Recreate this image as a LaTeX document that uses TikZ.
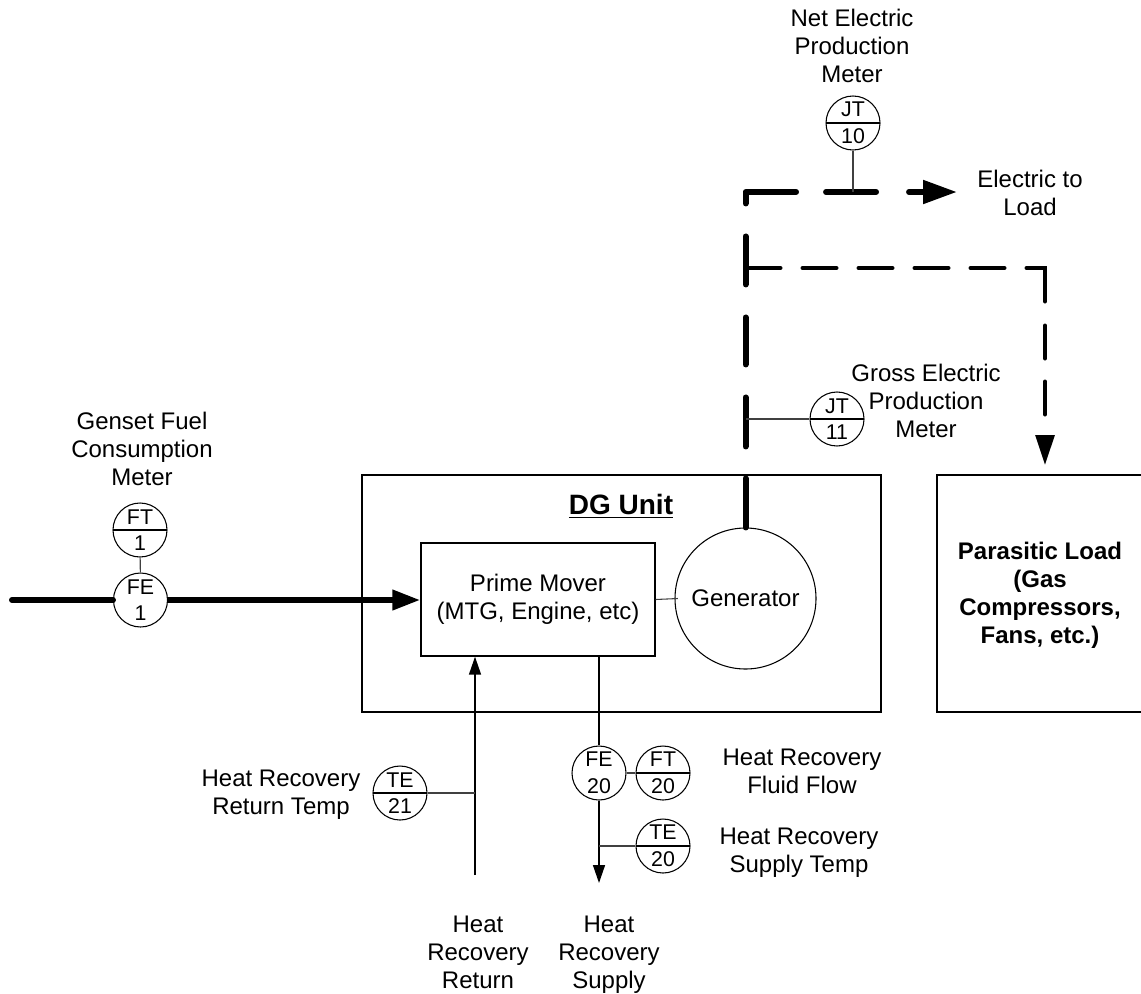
\documentclass[tikz,border=0pt]{standalone}
\usepackage{fontspec}
\setmainfont{Liberation Sans}
\usetikzlibrary{arrows.meta}
\tikzset{
  lbl/.style={align=center, inner sep=0pt, font=\fontsize{18}{21}\selectfont},
  boldlbl/.style={lbl, font=\fontsize{18}{21}\selectfont\bfseries},
  block/.style={draw, line width=1pt, inner sep=0pt, align=center, font=\fontsize{18}{21}\selectfont},
  meter/.style={draw, circle, fill=white, line width=0.8pt, minimum size=40.5pt, inner sep=0pt, align=center, font=\fontsize{16}{20}\selectfont},
  divided/.style={path picture={\draw[line width=1pt] (path picture bounding box.west) -- (path picture bounding box.east);}},
  stem/.style={line width=0.8pt, black!75},
  pipe/.style={line width=1.1pt, -{Triangle[length=13.5pt,width=9pt]}},
  fuel/.style={line width=4.5pt, line cap=round},
  elec/.style={line width=4.5pt, line cap=round, line join=round},
  aux/.style={line width=3pt, line cap=round, line join=miter}
}
\begin{document}
\begin{tikzpicture}[x=0.75pt, y=-0.75pt]
\useasboundingbox (0,0) rectangle (1141,993);
% Bloecke
\node[block, minimum width=389.25pt, minimum height=177.75pt] (DG) at (621.5,593.5) {};
\node[block, minimum width=175.5pt, minimum height=84.75pt] (PM) at (538,599.5) {Prime Mover\\(MTG, Engine, etc)};
\node[block, circle, line width=0.8pt, minimum size=105.75pt] (Gen) at (745.5,598.5) {Generator};
\node[block, minimum width=156pt, minimum height=177.75pt] (Load) at (1041,593.5) {};
\node[boldlbl, font=\fontsize{21}{24}\selectfont\bfseries] (DGtitle) at (621,506) {\underline{DG Unit}};
\node[boldlbl] (LoadText) at (1040,595.5) {Parasitic Load\\(Gas\\Compressors,\\Fans, etc.)};
% Messstellen
\node[meter, divided] (JT10) at (853,123) {JT\\10};
\node[meter, divided] (JT11) at (837,419) {JT\\11};
\node[meter, divided] (FT1) at (140,530) {FT\\1};
\node[meter] (FE1) at (140.5,600) {FE\\1};
\node[meter] (FE20) at (599,773) {FE\\20};
\node[meter, divided] (FT20) at (663,773) {FT\\20};
\node[meter, divided] (TE20) at (663,846) {TE\\20};
\node[meter, divided] (TE21) at (400,793) {TE\\21};
% Enden der Leitungen
\coordinate (FuelIn) at (12,600);
\coordinate (Corner) at (745.5,192);
\coordinate (ElecOut) at (957,192);
\coordinate (Tap) at (745.5,268);
\coordinate (TapCorner) at (1045,268);
\coordinate (LoadIn) at (1045,465);
\coordinate (RetIn) at (475,875);
\coordinate (SupOut) at (599,883);
% Brennstoff
\draw[fuel] (FuelIn) -- (FE1);
\draw[fuel, line cap=butt, -{Triangle[length=21pt,width=14.5pt]}] (FE1) -- (FE1 -| PM.west);
\draw[stem] (FT1) -- (FE1);
% Strom
\draw[elec, dash pattern=on 36.75pt off 24pt on 36.75pt off 24.75pt on 35.25pt off 24.75pt on 36pt off 24.75pt on 46.5pt off 22.5pt on 37.5pt off 24.75pt on 60pt off 20pt, -{Triangle[length=25.5pt,width=17pt]}]
  (Gen.north) -- (Corner) -- (ElecOut);
\draw[aux, dash pattern=on 26.25pt off 16.5pt on 25.5pt off 16.5pt on 25.5pt off 16.5pt on 25.5pt off 16.5pt on 25.5pt off 16.5pt on 39pt off 18pt on 24.75pt off 17.25pt on 24.75pt off 100pt, -{Triangle[length=22.5pt,width=14pt]}]
  (Tap) -- (TapCorner) -- (LoadIn);
\draw[stem] (JT10) -- (JT10 |- Corner);
\draw[stem] (JT11) -- (JT11 -| Tap);
% Waermerueckgewinnung
\draw[pipe] (RetIn) -- (RetIn |- PM.south);
\draw[line width=1.1pt] (SupOut |- PM.south) -- (FE20);
\draw[pipe] (FE20) -- (SupOut);
\draw[stem] (FE20) -- (FT20);
\draw[stem] (TE20) -- (TE20 -| SupOut);
\draw[stem] (TE21) -- (TE21 -| RetIn);
\draw[stem] (PM.east) -- ([xshift=2.5pt]Gen.west);
% Beschriftung
\node[lbl] (NetText) at (852,46) {Net Electric\\Production\\Meter};
\node[lbl] (ElecText) at (1030,193) {Electric to\\Load};
\node[lbl] (GrossText) at (926,401) {Gross Electric\\Production\\Meter};
\node[lbl] (FuelText) at (142,449) {Genset Fuel\\Consumption\\Meter};
\node[lbl] (RetTempText) at (281,795) {Heat Recovery\\Return Temp};
\node[lbl] (FlowText) at (802,771) {Heat Recovery\\Fluid Flow};
\node[lbl] (SupTempText) at (799,853) {Heat Recovery\\Supply Temp};
\node[lbl] (RetText) at (478,952) {Heat\\Recovery\\Return};
\node[lbl] (SupText) at (609,955) {Heat\\Recovery\\Supply};
\end{tikzpicture}
\end{document}
